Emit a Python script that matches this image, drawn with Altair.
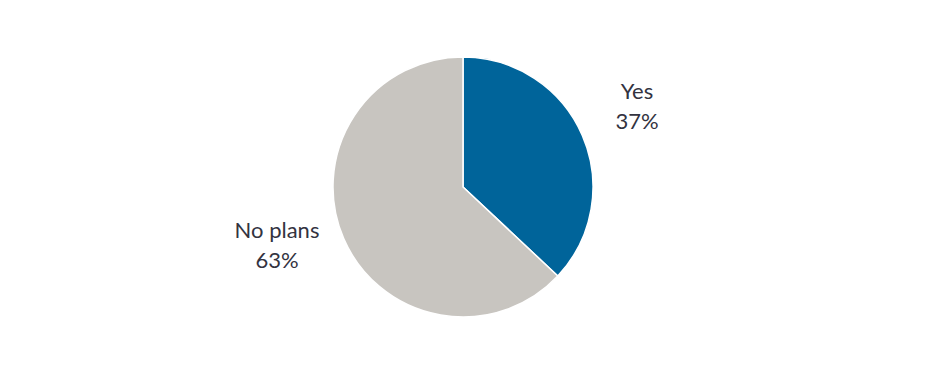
import altair as alt
import pandas as pd

categories = ["Yes", "No plans"]
values = [37, 63]
labels = ["Yes\n37%", "No plans\n63%"]
colors = ["#00649a", "#c8c5c0"]

df = pd.DataFrame({"cat": categories, "val": values, "label": labels, "ord": [0, 1]})

base = alt.Chart(df)

pie = base.mark_arc(radius=130, stroke="white", strokeWidth=1.5).encode(
    theta=alt.Theta("val:Q", stack=True),
    order=alt.Order("ord:Q"),
    color=alt.Color("cat:N", scale=alt.Scale(domain=categories, range=colors), legend=None),
)

def lab(cat, dx, dy):
    return base.transform_filter(alt.datum.cat == cat).mark_text(
        font="Lato", fontSize=22, color="#33333f", lineBreak="\n", lineHeight=30,
        align="center", baseline="middle", dx=dx, dy=dy,
    ).encode(
        x=alt.value(463), y=alt.value(187), text="label:N"
    )

chart = alt.layer(pie, lab("Yes", 174, -95), lab("No plans", -186, 44)).properties(
    width=926, height=374, autosize=alt.AutoSizeParams(type="none"), padding=0
).configure_view(stroke=None)

chart.save("out.html", embed_options={"renderer": "svg", "actions": False})
